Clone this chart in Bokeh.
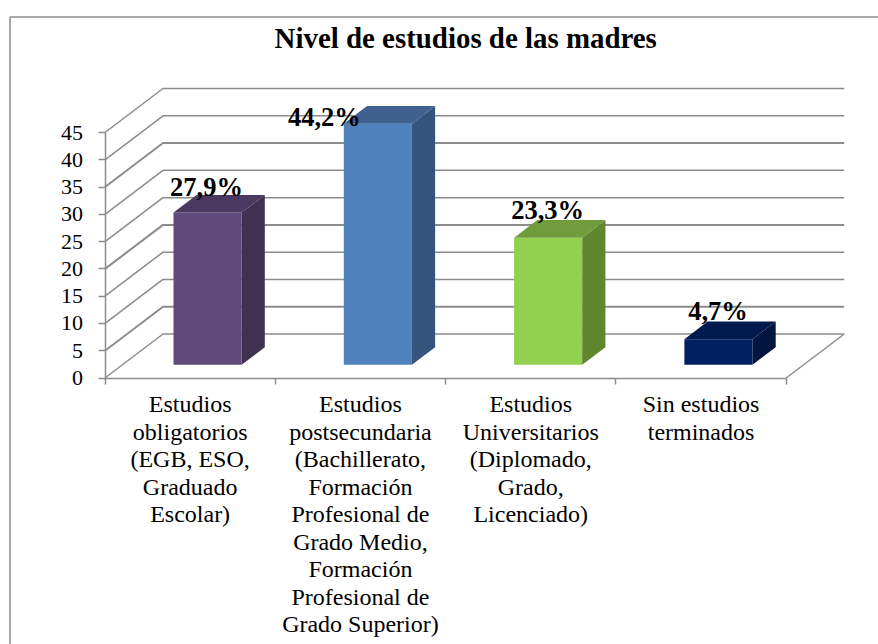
from bokeh.plotting import figure
from bokeh.models import Range1d, LinearAxis, FixedTicker
from bokeh.core.properties import value
from bokeh.embed import file_html
from bokeh.resources import INLINE

# ---- data
categories = [
    "Estudios\nobligatorios\n(EGB, ESO,\nGraduado\nEscolar)",
    "Estudios\npostsecundaria\n(Bachillerato,\nFormación\nProfesional de\nGrado Medio,\nFormación\nProfesional de\nGrado Superior)",
    "Estudios\nUniversitarios\n(Diplomado,\nGrado,\nLicenciado)",
    "Sin estudios\nterminados",
]
values = [27.9, 44.2, 23.3, 4.7]
labels = ["27,9%", "44,2%", "23,3%", "4,7%"]
y_ticks = [0, 5, 10, 15, 20, 25, 30, 35, 40, 45]
title = "Nivel de estudios de las madres"

# ---- styles
front_cols = ["#604A7B", "#4F81BD", "#92D050", "#002060"]
side_cols = ["#3F3151", "#34547B", "#60862F", "#001540"]
top_cols = ["#4A3860", "#3E618F", "#709C3C", "#001A4D"]
GREY = "#8C8C8C"
SERIF = "Liberation Serif"

# ---- layout (pixels of the page)
W, H = 878, 644
PX0, PY0 = 104.5, 377.5      # origin of the axes on the page
CAT_PX, UNIT_PX = 170.3, 5.455
DEPTH_X = 58 / CAT_PX        # depth of the 3D box in category units
DEPTH_Y = 44 / UNIT_PX       # depth of the 3D box in value units
BAR_W = 0.4
F0, F1 = 0.3, 0.7            # bar position inside the depth
# manual shift of the labels from the bar's front centre, in px
label_dx = [-1, -53.5, -0.5, -0.5]
label_dy = [25.5, 6.5, 27.5, 28.5]

x_range = Range1d((0 - PX0) / CAT_PX, (W - PX0) / CAT_PX)
y_range = Range1d((PY0 - H) / UNIT_PX, (PY0 - 0) / UNIT_PX)

p = figure(width=W, height=H, output_backend="svg", toolbar_location=None,
           x_range=x_range, y_range=y_range, min_border=0,
           x_axis_type=None, y_axis_type=None)
p.xgrid.visible = False
p.ygrid.visible = False
p.outline_line_color = None
p.background_fill_color = "white"
p.border_fill_color = "white"

# chart-area border (left and top edges visible)
bx = (9.5 - PX0) / CAT_PX
by = (PY0 - 16.5) / UNIT_PX
p.line([bx, bx, x_range.end], [y_range.start, by, by], line_color=GREY, line_width=1.5)

# walls' grid
gx = [[0, DEPTH_X, 4 + DEPTH_X] for _ in y_ticks]
gy = [[v, v + DEPTH_Y, v + DEPTH_Y] for v in y_ticks]
gw = [2.0 if v in (5, 20, 35) else 1.5 for v in y_ticks]
p.multi_line(gx, gy, line_color=GREY, line_width=gw)
p.line([4, 4 + DEPTH_X], [0, DEPTH_Y], line_color=GREY, line_width=1.5)

# bars
for i, v in enumerate(values):
    xl = i + 0.5 - BAR_W / 2 + F0 * DEPTH_X
    xr = xl + BAR_W
    yb = F0 * DEPTH_Y
    yt = yb + v
    dx = (F1 - F0) * DEPTH_X
    dy = (F1 - F0) * DEPTH_Y
    p.patch([xl, xr, xr, xl], [yb, yb, yt, yt], fill_color=front_cols[i], line_color=None)
    p.patch([xr, xr + dx, xr + dx, xr], [yb, yb + dy, yt + dy, yt], fill_color=side_cols[i], line_color=None)
    p.patch([xl, xr, xr + dx, xl + dx], [yt, yt, yt + dy, yt + dy], fill_color=top_cols[i], line_color=None)

# data labels
lx = [i + 0.5 + F0 * DEPTH_X + label_dx[i] / CAT_PX for i in range(4)]
ly = [F0 * DEPTH_Y + values[i] + label_dy[i] / UNIT_PX for i in range(4)]
p.text(lx, ly, text=labels, text_font=value(SERIF), text_font_style="bold",
       text_font_size="26.5px", text_align="center", text_baseline="alphabetic", text_color="black")

# title
p.text([(465.2 - PX0) / CAT_PX], [(PY0 - 37) / UNIT_PX], text=[title], text_font=value(SERIF),
       text_font_style="bold", text_font_size="28.9px", text_align="center",
       text_baseline="alphabetic", text_color="black")

# axes
ya = LinearAxis(fixed_location=0, ticker=FixedTicker(ticks=y_ticks), bounds=(0, 45))
ya.axis_line_color = GREY
ya.axis_line_width = 1.5
ya.major_tick_line_color = GREY
ya.major_tick_line_width = 1.5
ya.major_tick_out = 7
ya.major_tick_in = 0
ya.minor_tick_line_color = None
ya.major_label_standoff = 15
ya.major_label_text_font = SERIF
ya.major_label_text_font_size = "22px"
ya.major_label_text_color = "black"
p.add_layout(ya, "left")

xa = LinearAxis(fixed_location=0, bounds=(0, 4),
                ticker=FixedTicker(ticks=[i + 0.5 for i in range(4)], minor_ticks=[0, 1, 2, 3, 4]))
xa.major_label_overrides = {i + 0.5: c for i, c in enumerate(categories)}
xa.axis_line_color = GREY
xa.axis_line_width = 1.5
xa.major_tick_line_color = None
xa.major_tick_out = 0
xa.major_tick_in = 0
xa.minor_tick_line_color = GREY
xa.minor_tick_line_width = 1.5
xa.minor_tick_out = 6
xa.minor_tick_in = 0
xa.major_label_standoff = 7
xa.major_label_text_font = SERIF
xa.major_label_text_font_size = "24px"
xa.major_label_text_color = "black"
xa.major_label_text_line_height = 1.06
xa.major_label_orientation = "horizontal"
p.add_layout(xa, "below")

open("out.html", "w").write(file_html(p, INLINE))
